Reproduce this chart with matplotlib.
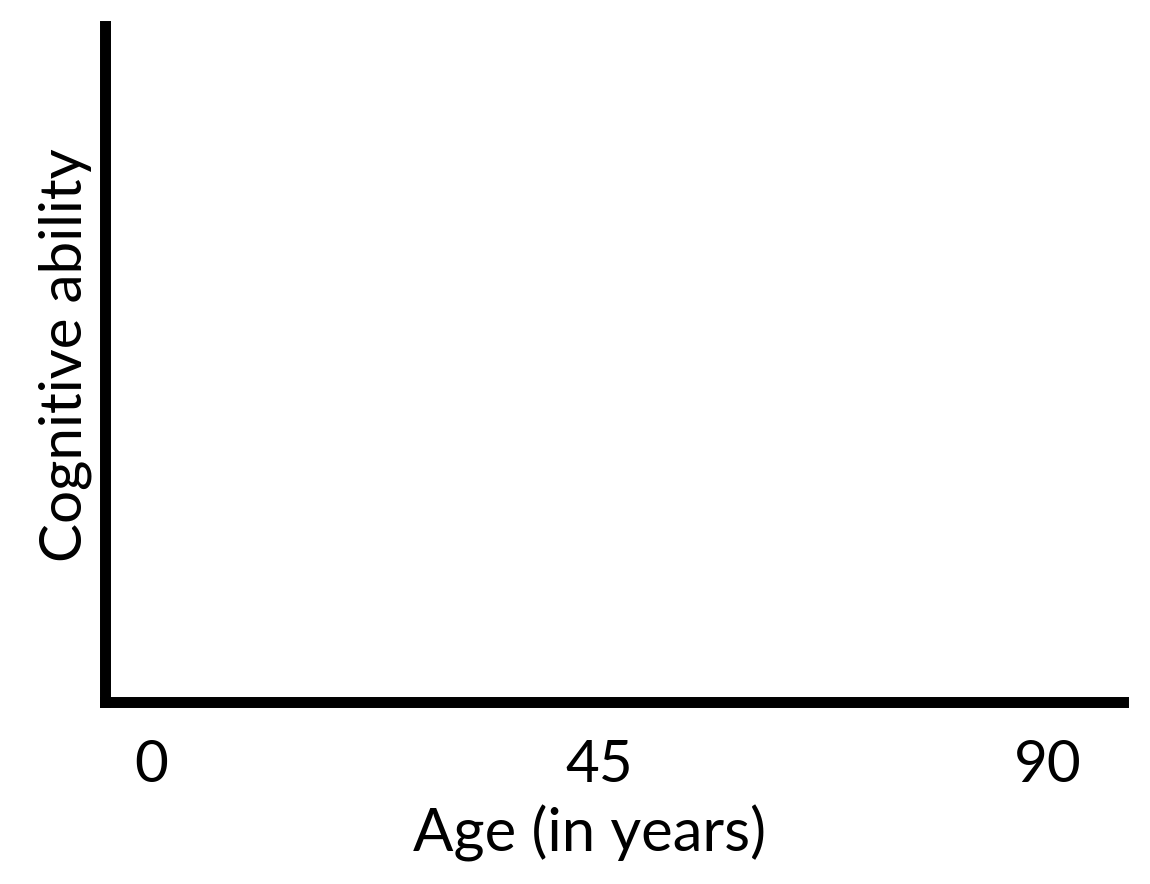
import matplotlib.pyplot as plt

# Tick values and axis labels
age_ticks = [0, 45, 90]
x_label = 'Age (in years)'
y_label = 'Cognitive ability'

plt.rcParams['font.family'] = ['Lato', 'DejaVu Sans']

fig = plt.figure(figsize=(11.5, 8.84), dpi=100)
# axes box in figure pixels: left spine ~104.5, bottom spine ~701.5
ax = fig.add_axes([104.5 / 1150, 1 - 701.5 / 884, (1122.5 - 104.5) / 1150, (701.5 - 25.5) / 884])

ax.set_xlim(-4.67, 97.47)
ax.set_ylim(0, 1)

for side in ['top', 'right']:
    ax.spines[side].set_visible(False)
for side in ['left', 'bottom']:
    ax.spines[side].set_linewidth(7.9)
    ax.spines[side].set_color('black')
    ax.spines[side].set_capstyle('projecting')

ax.set_xticks(age_ticks)
ax.set_xticklabels([str(a) for a in age_ticks])
ax.set_yticks([])
ax.tick_params(axis='x', length=0, pad=27, labelsize=42)

ax.set_xlabel(x_label, fontsize=43)
ax.xaxis.set_label_coords((590 - 104.5) / 1018, -0.153)
ax.set_ylabel(y_label, fontsize=42)
ax.yaxis.set_label_coords(-0.012, (701.5 - 355) / 676)

fig.savefig('out.png', dpi=100)
